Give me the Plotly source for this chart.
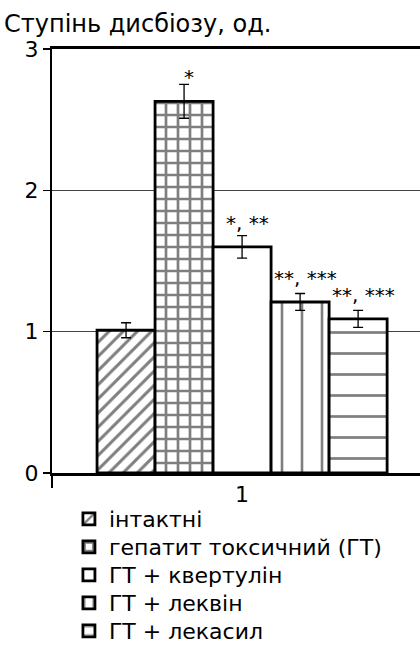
import plotly.graph_objects as go

# ---- data ----
category = ["1"]
groups = ["інтактні", "гепатит токсичний (ГТ)", "ГТ + квертулін", "ГТ + леквін", "ГТ + лекасил"]
values = [1.01, 2.63, 1.60, 1.21, 1.09]
errors = [0.053, 0.12, 0.08, 0.06, 0.06]
labels = ["", "*", "*, **", "**, ***", "**, ***"]
y_ticks = [0, 1, 2, 3]
y_title = "Ступінь дисбіозу, од."

# ---- styles ----
FONT = "DejaVu Sans, Liberation Sans, Arial, sans-serif"
patterns = [
    dict(shape="/", size=10, solidity=0.3, fgcolor="black", bgcolor="white", fillmode="overlay"),
    dict(shape="+", size=12, solidity=0.4, fgcolor="black", bgcolor="white", fillmode="overlay"),
    dict(shape="", fgcolor="black", bgcolor="white"),
    dict(shape="|", size=20, solidity=0.13, fgcolor="black", bgcolor="white", fillmode="overlay"),
    dict(shape="-", size=21, solidity=0.13, fgcolor="black", bgcolor="white", fillmode="overlay"),
]
BARGAP = 0.237
n = len(groups)

# plot area geometry (pixels)
W, H = 420, 659
ML, MT, MB = 52, 49, 186
plot_h = H - MT - MB

fig = go.Figure()
legend_names = ["legend"] + ["legend%d" % (k + 1) for k in range(1, n)]
for i, g in enumerate(groups):
    fig.add_trace(go.Bar(
        x=category, y=[values[i]], name=g, legend=legend_names[i],
        marker=dict(color="white", line=dict(color="black", width=2.8), pattern=patterns[i]),
        error_y=dict(type="data", array=[errors[i]], color="black", thickness=1.3, width=5),
        hoverinfo="skip",
    ))

# labels above bars (positions from group layout)
slot = (1 - BARGAP) / n
for i, t in enumerate(labels):
    if not t:
        continue
    xc = -(1 - BARGAP) / 2 + (i + 0.5) * slot
    fig.add_annotation(x=xc, y=values[i], xref="x", yref="y", text=t, showarrow=False,
                       xanchor="center", yanchor="bottom", yshift=10, xshift=5,
                       font=dict(family=FONT, size=20, color="black"))

# one legend box per row so rows can be spaced like the original
row0_px, row_step_px = 519, 28
legend_layout = {}
for i, name in enumerate(legend_names):
    ypx = row0_px + i * row_step_px
    legend_layout[name] = dict(
        x=0.046, xanchor="left", y=-(ypx - (H - MB)) / plot_h, yanchor="middle",
        font=dict(family=FONT, size=22, color="black"),
        bgcolor="rgba(0,0,0,0)", borderwidth=0)

fig.update_layout(
    width=W, height=H,
    margin=dict(l=ML, r=0, t=MT, b=MB),
    paper_bgcolor="white", plot_bgcolor="white",
    barmode="group", bargap=BARGAP, bargroupgap=0,
    font=dict(family=FONT, size=22, color="black"),
    title=dict(text=y_title, x=4 / W, xref="container", xanchor="left",
               y=1 - 24 / H, yref="container", yanchor="middle",
               font=dict(family=FONT, size=24, color="black")),
    showlegend=True,
    hovermode=False,
    xaxis=dict(range=[-0.5, 0.468], showline=True, linewidth=3, linecolor="black", mirror=True,
               ticks="outside", tickson="boundaries", ticklen=12, tickwidth=1.5, tickcolor="black",
               ticklabelstandoff=0, showgrid=False, tickfont=dict(size=22)),
    yaxis=dict(range=[0, 3], tickvals=y_ticks, showline=True, linewidth=2, linecolor="black",
               ticks="outside", ticklen=7, tickwidth=1.5, tickcolor="black",
               showgrid=True, gridcolor="#444", gridwidth=1, zeroline=False,
               tickfont=dict(size=22)),
    **legend_layout,
)

fig.write_html("out.html", config={"displayModeBar": False, "staticPlot": True},
               post_script="document.body.style.margin='0';")
